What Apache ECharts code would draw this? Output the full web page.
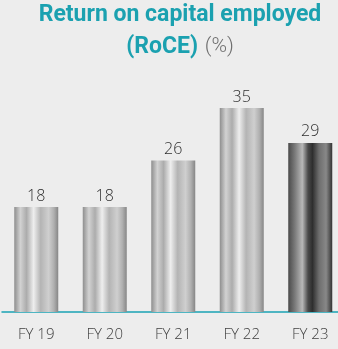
<!DOCTYPE html>
<html>
<head>
<meta charset="utf-8">
<script src="https://cdn.jsdelivr.net/npm/echarts@6/dist/echarts.min.js"></script>
<style>
  html, body { margin: 0; padding: 0; background: #ededed; }
  #chart { width: 338px; height: 349px; }
</style>
</head>
<body>
<div id="chart"></div>
<script>
// Return on capital employed, by financial year
const categories = ['FY 19', 'FY 20', 'FY 21', 'FY 22', 'FY 23'];
const roceValues = [18, 18, 26, 35, 29];

// Brushed-metal look for the bars: silver for past years, dark steel for the latest
function silver() {
  return new echarts.graphic.LinearGradient(0, 0, 1, 0, [
    { offset: 0, color: '#8e8e8e' },
    { offset: 0.14, color: '#d2d2d2' },
    { offset: 0.28, color: '#acacac' },
    { offset: 0.44, color: '#eeeeee' },
    { offset: 0.6, color: '#b4b4b4' },
    { offset: 0.78, color: '#cfcfcf' },
    { offset: 0.9, color: '#b0b0b0' },
    { offset: 1, color: '#868686' }
  ]);
}
function steel() {
  return new echarts.graphic.LinearGradient(0, 0, 1, 0, [
    { offset: 0, color: '#4a4a4a' },
    { offset: 0.15, color: '#7a7a7a' },
    { offset: 0.32, color: '#b8b8b8' },
    { offset: 0.45, color: '#4a4a4a' },
    { offset: 0.55, color: '#2e2e2e' },
    { offset: 0.7, color: '#6e6e6e' },
    { offset: 0.86, color: '#888888' },
    { offset: 1, color: '#333333' }
  ]);
}

const chart = echarts.init(document.getElementById('chart'), null, { renderer: 'canvas' });
chart.setOption({
  backgroundColor: '#ededed',
  animation: false,
  graphic: [{
    type: 'text',
    x: 180,
    y: -1,
    style: {
      text: '{t|Return on capital employed}\n{t|(RoCE)}  {p|(%)}',
      align: 'center',
      verticalAlign: 'top',
      rich: {
        t: { fontFamily: 'Roboto', fontWeight: 700, fontSize: 23, letterSpacing: 0.25, fill: '#1ba1b0', lineHeight: 32 },
        p: { fontFamily: 'Roboto', fontWeight: 300, fontSize: 21, fill: '#6f6f6f', lineHeight: 32 }
      }
    }
  }],
  grid: { left: 2, top: 78.8, width: 342.5, height: 233.2, outerBoundsMode: 'none' },
  xAxis: {
    type: 'category',
    data: categories,
    axisLine: { lineStyle: { color: '#1aa3b4', width: 1.5 } },
    axisTick: { show: false },
    axisLabel: { fontFamily: 'Open Sans', fontWeight: 300, fontSize: 15, color: '#3f3f3f', margin: 15 }
  },
  yAxis: {
    type: 'value', min: 0, max: 40,
    show: false, splitLine: { show: false }
  },
  series: [{
    type: 'bar',
    data: roceValues.map((v, i) => ({
      value: v,
      itemStyle: { color: i === roceValues.length - 1 ? steel() : silver() }
    })),
    barWidth: 44,
    label: {
      show: true, position: 'top', distance: 3,
      fontFamily: 'Open Sans', fontWeight: 300, fontSize: 16, color: '#2f2f2f'
    }
  }]
});
</script>
</body>
</html>
